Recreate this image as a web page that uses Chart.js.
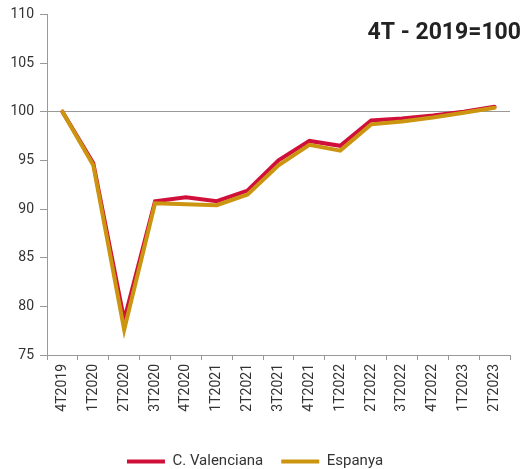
<!DOCTYPE html>
<html>
<head>
<meta charset="utf-8">
<script src="https://cdn.jsdelivr.net/npm/chart.js@4"></script>
<style>
  html, body { margin: 0; padding: 0; background: #fff; }
  #wrap { width: 529px; height: 469px; }
</style>
</head>
<body>
<div id="wrap"><canvas id="myChart"></canvas></div>
<script>
const labels = ['4T2019', '1T2020', '2T2020', '3T2020', '4T2020', '1T2021', '2T2021', '3T2021',
  '4T2021', '1T2022', '2T2022', '3T2022', '4T2022', '1T2023', '2T2023'];
const valenciana = [100, 94.7, 78.6, 90.8, 91.2, 90.8, 91.9, 95.0, 97.0, 96.5, 99.1, 99.3, 99.6, 100.0, 100.5];
const espanya = [100, 94.5, 77.6, 90.6, 90.5, 90.4, 91.5, 94.5, 96.6, 96.0, 98.7, 99.0, 99.4, 99.9, 100.4];
const yTicks = [75, 80, 85, 90, 95, 100, 105, 110];
const badge = '4T - 2019=100';

Chart.defaults.font.family = 'Roboto, "Open Sans", sans-serif';
Chart.defaults.color = '#333';

const badgePlugin = {
  id: 'badge',
  afterDraw(chart) {
    const ctx = chart.ctx;
    ctx.save();
    ctx.font = 'bold 23px Roboto, sans-serif';
    ctx.fillStyle = '#222';
    ctx.textAlign = 'right';
    ctx.textBaseline = 'alphabetic';
    ctx.fillText(badge, 521, 39);
    ctx.restore();
  }
};

new Chart(document.getElementById('myChart'), {
  type: 'line',
  data: {
    labels: labels,
    datasets: [
      {
        label: 'C. Valenciana',
        data: valenciana,
        borderColor: '#d0103a',
        backgroundColor: '#d0103a',
        borderWidth: 4,
        borderCapStyle: 'round',
        pointRadius: 0,
        pointStyle: 'line',
        tension: 0,
        order: 2,
      },
      {
        label: 'Espanya',
        data: espanya,
        borderColor: '#cc9510',
        backgroundColor: '#cc9510',
        borderWidth: 4,
        borderCapStyle: 'round',
        pointRadius: 0,
        pointStyle: 'line',
        tension: 0,
        order: 1,
      },
    ],
  },
  options: {
    responsive: true,
    maintainAspectRatio: false,
    animation: false,
    layout: { padding: { top: 8, right: 19, left: 0, bottom: -10 } },
    plugins: {
      tooltip: { enabled: false },
      legend: {
        position: 'bottom',
        labels: {
          usePointStyle: true,
          pointStyleWidth: 38,
          boxHeight: 4,
          padding: 18,
          font: { size: 15 },
          color: '#333',
          sort: (a, b) => a.datasetIndex - b.datasetIndex,
        },
      },
    },
    scales: {
      x: {
        offset: true,
        grid: { offset: true, color: 'transparent', tickColor: '#999', tickLength: 5, drawTicks: true },
        border: { color: '#999', width: 1 },
        ticks: { minRotation: 90, maxRotation: 90, autoSkip: false, font: { size: 14 }, color: '#333', padding: 4 },
        afterFit(scale) { scale.height = 81; },
      },
      y: {
        min: 75,
        max: 110,
        afterBuildTicks(scale) { scale.ticks = yTicks.map(v => ({ value: v })); },
        grid: {
          color: ctx => (ctx.tick && ctx.tick.value === 100 ? '#999' : 'transparent'),
          tickColor: '#999',
          tickLength: 7,
        },
        border: { color: '#999', width: 1 },
        ticks: { font: { size: 14 }, color: '#333', padding: 6 },
        afterFit(scale) { scale.width = 47; },
      },
    },
  },
  plugins: [badgePlugin],
});
</script>
</body>
</html>
